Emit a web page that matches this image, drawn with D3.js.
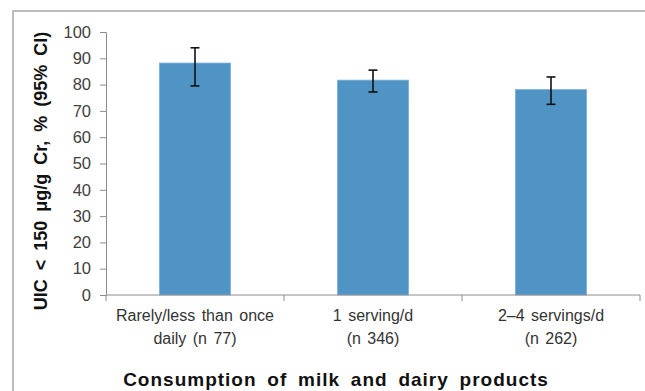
<!DOCTYPE html>
<html>
<head>
<meta charset="utf-8">
<script src="https://cdn.jsdelivr.net/npm/d3@7"></script>
<style>
  body { margin: 0; background: #fff; }
  svg { display: block; }
</style>
</head>
<body>
<div id="chart"></div>
<script>
// data
const categories = [["Rarely/less than once", "daily (n 77)"], ["1 serving/d", "(n 346)"], ["2\u20134 servings/d", "(n 262)"]];
const values = [88.2, 81.7, 78.1];
const ciLow = [79.5, 77.2, 72.5];
const ciHigh = [94.0, 85.5, 82.9];
const yTicks = [0, 10, 20, 30, 40, 50, 60, 70, 80, 90, 100];

const width = 645;
const height = 391;
const margin = { top: 32, right: 5, bottom: 96, left: 106 };

const svg = d3.select("#chart").append("svg")
    .attr("width", width)
    .attr("height", height);

// outer frame
svg.append("rect")
    .attr("x", 13)
    .attr("y", 11)
    .attr("width", 645)
    .attr("height", 420)
    .attr("fill", "none")
    .attr("stroke", "#a8a8a8")
    .attr("stroke-width", 1.5);

const x = d3.scaleBand()
    .domain(d3.range(categories.length))
    .range([margin.left, width - margin.right])
    .padding(0);

const y = d3.scaleLinear()
    .domain([0, 100])
    .range([height - margin.bottom, margin.top]);

const barW = x.bandwidth() * 0.4;
const axisColor = "#8c8c8c";

// y axis
const yAxis = svg.append("g")
    .attr("transform", `translate(${margin.left},0)`)
    .call(d3.axisLeft(y).tickValues(yTicks).tickSize(6).tickPadding(9));
yAxis.select(".domain").attr("stroke", axisColor);
yAxis.selectAll(".tick line").attr("stroke", axisColor);
yAxis.selectAll(".tick text")
    .attr("fill", "#404040")
    .style("font-family", "Arial, 'Liberation Sans', sans-serif")
    .style("font-size", "16.5px");

// bars
svg.selectAll("rect.bar")
    .data(values)
    .enter().append("rect")
    .attr("class", "bar")
    .attr("x", (d, i) => x(i) + (x.bandwidth() - barW) / 2)
    .attr("y", d => y(d))
    .attr("width", barW)
    .attr("height", d => y(0) - y(d))
    .attr("fill", "#4f94c4")
    .attr("stroke", "#7eb1d8")
    .attr("stroke-width", 0.8);

// error bars
const err = svg.selectAll("g.err")
    .data(values)
    .enter().append("g")
    .attr("class", "err")
    .attr("stroke", "#111")
    .attr("stroke-width", 1.6);
err.append("line")
    .attr("x1", (d, i) => x(i) + x.bandwidth() / 2)
    .attr("x2", (d, i) => x(i) + x.bandwidth() / 2)
    .attr("y1", (d, i) => y(ciLow[i]))
    .attr("y2", (d, i) => y(ciHigh[i]));
[ciLow, ciHigh].forEach(arr => {
    err.append("line")
        .attr("x1", (d, i) => x(i) + x.bandwidth() / 2 - 4.5)
        .attr("x2", (d, i) => x(i) + x.bandwidth() / 2 + 4.5)
        .attr("y1", (d, i) => y(arr[i]))
        .attr("y2", (d, i) => y(arr[i]));
});

// x axis
const xBase = y(0);
svg.append("line")
    .attr("x1", margin.left)
    .attr("x2", width - margin.right)
    .attr("y1", xBase)
    .attr("y2", xBase)
    .attr("stroke", axisColor);
const boundaries = d3.range(categories.length + 1).map(i => i < categories.length ? x(i) : x(i - 1) + x.bandwidth());
svg.selectAll("line.xtick")
    .data(boundaries)
    .enter().append("line")
    .attr("class", "xtick")
    .attr("x1", d => d)
    .attr("x2", d => d)
    .attr("y1", xBase)
    .attr("y2", xBase + 6)
    .attr("stroke", axisColor);

const labels = svg.selectAll("text.xlab")
    .data(categories)
    .enter().append("text")
    .attr("class", "xlab")
    .attr("text-anchor", "middle")
    .attr("fill", "#333")
    .style("font-family", "'Liberation Sans Narrow', 'Arial Narrow', sans-serif")
    .style("font-size", "16px")
    .style("word-spacing", "2px");
labels.each(function(lines, i) {
    d3.select(this).selectAll("tspan")
        .data(lines)
        .enter().append("tspan")
        .attr("x", x(i) + x.bandwidth() / 2)
        .attr("y", (d, j) => xBase + 26 + j * 23)
        .text(d => d);
});

// axis titles
svg.append("text")
    .attr("x", 336)
    .attr("y", 386)
    .attr("text-anchor", "middle")
    .attr("fill", "#111")
    .style("font-family", "Arial, 'Liberation Sans', sans-serif")
    .style("font-weight", "bold")
    .style("font-size", "19px")
    .style("letter-spacing", "1px")
    .style("word-spacing", "4.5px")
    .text("Consumption of milk and dairy products");

svg.append("text")
    .attr("transform", "translate(47,171) rotate(-90)")
    .attr("text-anchor", "middle")
    .attr("fill", "#111")
    .style("font-family", "Arial, 'Liberation Sans', sans-serif")
    .style("font-weight", "bold")
    .style("font-size", "18px")
    .style("word-spacing", "4px")
    .text("UIC < 150 \u03bcg/g Cr, % (95% CI)");
</script>
</body>
</html>
